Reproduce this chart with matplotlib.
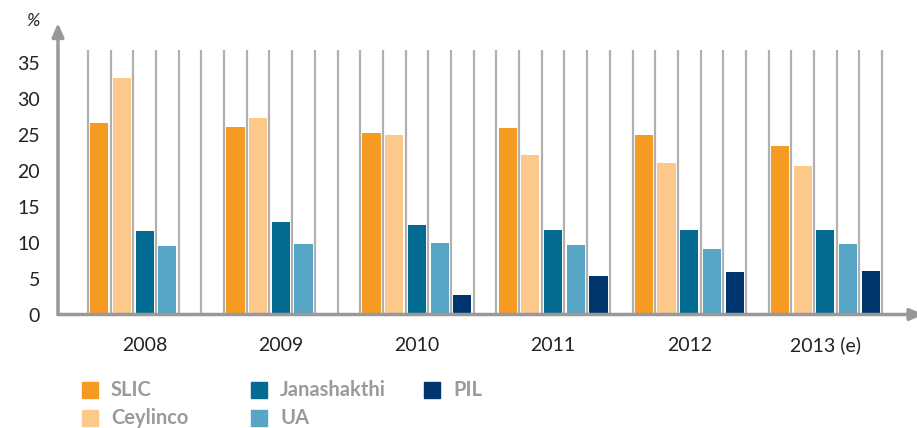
import matplotlib.pyplot as plt
from matplotlib.patches import Rectangle

# data (%)
years = ["2008", "2009", "2010", "2011", "2012", "2013 (e)"]
series = ["SLIC", "Ceylinco", "Janashakthi", "UA", "PIL"]
slic = [26.6, 26.1, 25.2, 25.9, 24.9, 23.4]
ceylinco = [32.8, 27.3, 24.9, 22.1, 21.1, 20.6]
janashakthi = [11.6, 12.9, 12.5, 11.8, 11.8, 11.7]
ua = [9.5, 9.8, 10.0, 9.6, 9.1, 9.8]
pil = [0, 0, 2.7, 5.4, 5.9, 6.0]
colors = ["#F59B21", "#FDC98A", "#036A91", "#58A6C6", "#00356E"]

plt.rcParams['font.family'] = ['Lato', 'DejaVu Sans']

fig = plt.figure(figsize=(9.17, 4.28), dpi=100)
ax = fig.add_axes([58 / 917, 113.5 / 428, (915 - 58) / 917, 291.5 / 428])

values = [slic, ceylinco, janashakthi, ua, pil]
slots_per_group = 6
# vertical separators between every slot
n_lines = slots_per_group * len(years)
ax.vlines(range(n_lines), 0, 36.7, color="#b0b0b0", lw=1.6, zorder=1)

for s, name in enumerate(series):
    xs = [g * slots_per_group + s + 0.5 for g in range(len(years))]
    vals = values[s]
    xs2 = [x for x, v in zip(xs, vals) if v > 0]
    vals2 = [v for v in vals if v > 0]
    ax.bar(xs2, vals2, width=0.8, color=colors[s], zorder=2, label=name)

ax.set_xlim(-1.32, 36.45)
ax.set_ylim(0, 40.5)
ax.set_yticks(range(0, 36, 5))
ax.set_xticks([g * slots_per_group + 2.5 for g in range(len(years))])
ax.set_xticklabels(years)
ax.tick_params(axis="y", length=0, pad=13, labelsize=14, labelcolor="#222222")
ax.tick_params(axis="x", length=0, pad=16, labelsize=14, labelcolor="#222222")
for sp in ax.spines.values():
    sp.set_visible(False)

# axis arrows
arrow = dict(arrowstyle="-|>,head_width=0.35,head_length=0.8", color="#999999", lw=2.5,
             shrinkA=0, shrinkB=0)
ax.annotate("", xy=(0, 1), xytext=(0, 0), xycoords="axes fraction",
            arrowprops=arrow, annotation_clip=False)
ax.annotate("", xy=(1.01, 0), xytext=(0, 0), xycoords="axes fraction",
            arrowprops=arrow, annotation_clip=False)

fig.text(33 / 917, 1 - 21 / 428, "%", fontsize=13, style="italic", color="#222222",
         ha="center", va="center")

# legend drawn by hand to match the layout
leg_pos = [(82, 390), (82, 418), (251, 390), (251, 418), (424, 390)]
for (px, py), name, c in zip(leg_pos, series, colors):
    fig.patches.append(Rectangle((px / 917, 1 - (py + 8) / 428), 16 / 917, 16 / 428,
                                 transform=fig.transFigure, color=c))
    fig.text((px + 29) / 917, 1 - py / 428, name, fontsize=14.5, fontweight="bold",
             color="#9a9a9a", va="center", ha="left")

fig.savefig("out.png", dpi=100)
